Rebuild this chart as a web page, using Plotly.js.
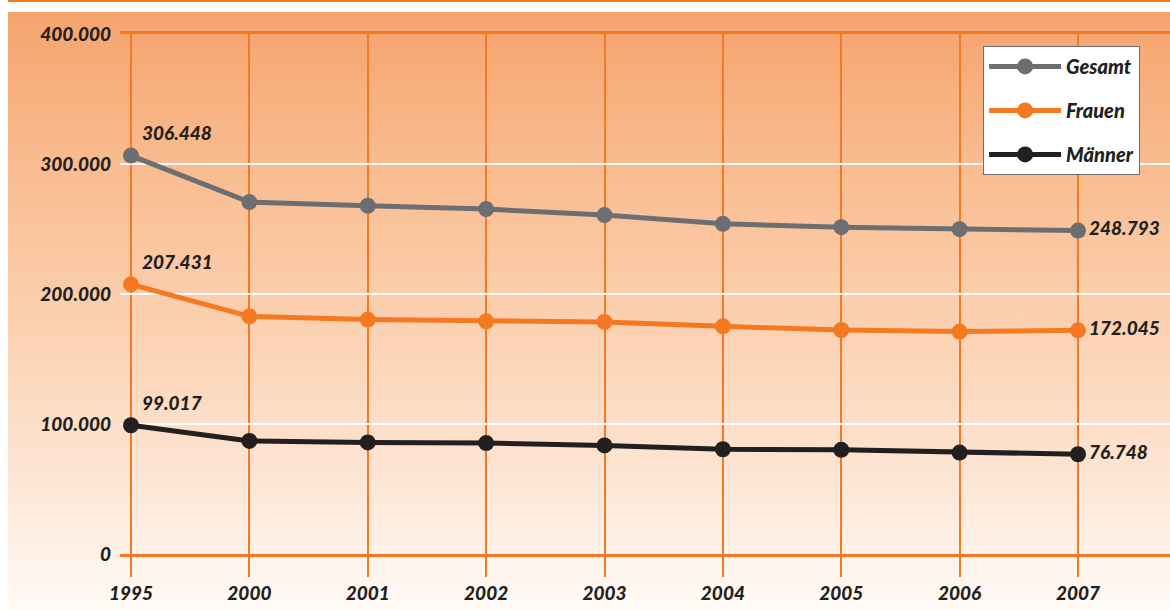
<!DOCTYPE html>
<html><head><meta charset="utf-8">
<script src="https://cdn.plot.ly/plotly-3.0.1.min.js"></script>
<style>
html,body{margin:0;padding:0;background:#fff;}
#wrap{position:relative;width:1170px;height:610px;overflow:hidden;background:#fff;}
#topline{position:absolute;left:8px;top:0;width:1162px;height:2px;background:#f47920;}
#bg{position:absolute;left:8px;top:12px;width:1162px;height:598px;
 background:linear-gradient(to bottom,#f5a46d 0%,#f9bb8f 25%,#fbcfae 50%,#fde3d0 75%,#fffaf6 100%);}
#chart{position:absolute;left:0;top:0;width:1170px;height:610px;}
</style></head>
<body><div id="wrap"><div id="topline"></div><div id="bg"></div><div id="chart"></div></div>
<script>
const years = ['1995','2000','2001','2002','2003','2004','2005','2006','2007'];
const gesamt = [306448, 270700, 267900, 265300, 260700, 254000, 251400, 249900, 248793];
const frauen = [207431, 182800, 180300, 179000, 178500, 175100, 172300, 171100, 172045];
const maenner = [99017, 87000, 85800, 85300, 83500, 80600, 80100, 78000, 76748];
const yTickVals = [0, 100000, 200000, 300000, 400000];
const yTickText = ['0', '100.000', '200.000', '300.000', '400.000'];

function fmt(v){ return String(v).replace(/\B(?=(\d{3})+(?!\d))/g, '.'); }
function endLabels(arr){ return arr.map((v,i)=> (i===0 || i===arr.length-1) ? fmt(v) : ''); }
const pos = years.map((y,i)=> i===0 ? 'top right' : 'middle right');

const FONT = 'Lato, "Open Sans", sans-serif';
const labelFont = {family: FONT, size: 19, color: '#231f20', weight: 900, style: 'italic'};
const legendFont = {family: FONT, size: 20, color: '#231f20', weight: 900, style: 'italic'};

function tr(name, vals, color){
  return {
    type:'scatter', mode:'lines+markers+text', name:name, legendgroup:name,
    x: years, y: vals,
    line:{color:color, width:5},
    marker:{color:color, size:16},
    text: endLabels(vals), textposition: pos, textfont: labelFont,
    cliponaxis:false, hoverinfo:'skip'
  };
}
const data = [
  tr('Gesamt', gesamt, '#6d6e71'),
  tr('Frauen', frauen, '#f47920'),
  tr('Männer', maenner, '#231f20')
];

const layout = {
  width:1170, height:610,
  margin:{l:120, r:0, t:34, b:56},
  paper_bgcolor:'rgba(0,0,0,0)', plot_bgcolor:'rgba(0,0,0,0)',
  showlegend:true,
  legend:{x:0.822, y:0.977, xanchor:'left', yanchor:'top',
    bgcolor:'#ffffff', bordercolor:'#6d6e71', borderwidth:1,
    font:legendFont, itemwidth:72, tracegroupgap:15},
  xaxis:{type:'category', range:[-0.093, 8.777], showgrid:true, gridcolor:'#f47920', gridwidth:2,
    showline:true, linecolor:'#f47920', linewidth:3, mirror:true,
    ticks:'outside', ticklen:20, tickcolor:'#f47920', tickwidth:2,
    tickfont:labelFont, fixedrange:true},
  yaxis:{range:[0,400000], tickvals:yTickVals, ticktext:yTickText,
    showgrid:true, gridcolor:'#ffffff', gridwidth:2, zeroline:false, showline:false,
    ticks:'', ticklabelstandoff:8, tickfont:labelFont, fixedrange:true}
};
Plotly.newPlot('chart', data, layout, {displayModeBar:false, staticPlot:true});
</script></body></html>
